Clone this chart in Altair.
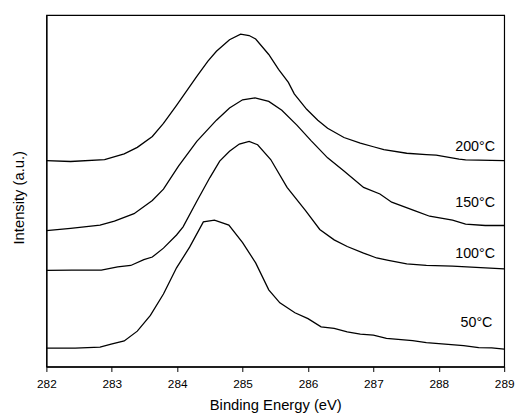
import altair as alt
import pandas as pd

# Binding energy (eV) and intensity (a.u.)
e200 = [282.0, 282.37, 282.89, 283.19, 283.39, 283.62, 283.79, 283.99, 284.30, 284.47, 284.60, 284.80,
        284.97, 285.10, 285.20, 285.40, 285.55, 285.70, 285.79, 285.98, 286.15, 286.30, 286.55, 286.80,
        287.00, 287.16, 287.51, 287.81, 287.96, 288.31, 288.41, 289.0]
i200 = [209.3, 208.3, 210.3, 216.0, 222.7, 233.7, 247.0, 265.3, 294.7, 310.3, 320.3, 332.0,
        337.7, 336.3, 332.7, 317.0, 302.0, 288.7, 277.0, 261.3, 250.3, 242.0, 232.7, 227.0,
        223.3, 220.3, 216.7, 215.3, 214.7, 210.7, 210.0, 209.3]

e150 = [282.0, 282.37, 282.82, 283.04, 283.34, 283.62, 283.79, 284.02, 284.30, 284.60, 284.80, 285.00,
        285.19, 285.40, 285.60, 285.83, 286.05, 286.30, 286.55, 286.85, 287.10, 287.28, 287.66, 287.86,
        288.21, 288.41, 288.71, 289.0]
i150 = [138.0, 140.3, 143.7, 147.7, 155.3, 168.7, 180.3, 203.7, 228.7, 250.3, 262.7, 271.0,
        273.0, 269.3, 260.3, 245.3, 229.3, 212.0, 198.7, 182.0, 175.3, 167.0, 157.7, 152.7,
        148.7, 144.7, 143.3, 143.3]

e100 = [282.0, 282.39, 282.84, 283.09, 283.29, 283.49, 283.62, 283.79, 283.99, 284.09, 284.30, 284.50,
        284.65, 284.80, 284.95, 285.10, 285.23, 285.43, 285.68, 285.96, 286.18, 286.40, 286.60, 286.85,
        287.05, 287.23, 287.51, 287.81, 288.21, 289.0]
i100 = [97.7, 98.0, 98.0, 101.3, 102.7, 108.7, 111.3, 120.3, 133.7, 142.0, 168.0, 192.0,
        208.7, 218.7, 226.0, 228.7, 225.3, 210.3, 182.0, 158.7, 139.3, 128.7, 122.0, 115.3,
        110.3, 108.0, 104.3, 102.7, 102.0, 99.3]

e50 = [282.0, 282.44, 282.82, 282.99, 283.19, 283.39, 283.59, 283.79, 283.99, 284.19, 284.40, 284.57,
       284.79, 285.00, 285.20, 285.40, 285.57, 285.80, 286.00, 286.20, 286.40, 286.60, 286.80, 287.00,
       287.20, 287.60, 287.81, 288.38, 288.61, 288.81, 289.0]
i50 = [18.7, 18.7, 19.7, 22.7, 26.0, 36.0, 52.0, 73.7, 100.3, 121.3, 147.0, 148.7,
       143.7, 126.0, 105.3, 78.0, 64.7, 54.7, 48.7, 40.3, 38.7, 35.3, 33.0, 32.0,
       28.7, 26.3, 24.3, 21.3, 19.3, 19.0, 17.7]

labels = ["200°C", "150°C", "100°C", "50°C"]
label_x = [288.86, 288.86, 288.86, 288.82]
label_y = [223.4, 166.0, 114.7, 43.7]

x_ticks = [282, 282.5, 283, 283.5, 284, 284.5, 285, 285.5, 286, 286.5, 287, 287.5, 288, 288.5, 289]

rows = []
for name, es, ys in [("200", e200, i200), ("150", e150, i150), ("100", e100, i100), ("50", e50, i50)]:
    for k, (e, y) in enumerate(zip(es, ys)):
        rows.append({"series": name, "order": k, "energy": e, "intensity": y})
df = pd.DataFrame(rows)
lab = pd.DataFrame({"label": labels, "energy": label_x, "intensity": label_y})

FONT = "Liberation Sans"

xscale = alt.Scale(domain=[282, 289], nice=False, zero=False)
yscale = alt.Scale(domain=[0, 357], nice=False, zero=False)

xaxis = alt.Axis(
    values=x_ticks,
    format="d",
    labelExpr="datum.value % 1 === 0 ? datum.label : ''",
    tickSize={"condition": {"test": "datum.value % 1 === 0", "value": 5}, "value": 3},
    labelOverlap=False, labelFlush=False, grid=False,
    labelFontSize=12, labelPadding=7, labelColor="black", labelFont=FONT,
    domainColor="black", tickColor="black", domainWidth=1.2, tickWidth=1,
    title="Binding Energy (eV)", titleFontSize=15, titleFont=FONT, titleFontWeight="normal",
    titleColor="black", titlePadding=9,
)
yaxis = alt.Axis(
    labels=False, ticks=False, grid=False, domainColor="black", domainWidth=1.2,
    title="Intensity (a.u.)", titleFontSize=15, titleFont=FONT, titleFontWeight="normal",
    titleColor="black", titlePadding=20, titleY=185,
)

lines = alt.Chart(df).mark_line(color="black", strokeWidth=1.3).encode(
    x=alt.X("energy:Q", scale=xscale, axis=xaxis),
    y=alt.Y("intensity:Q", scale=yscale, axis=yaxis),
    detail="series:N",
    order="order:Q",
)

texts = alt.Chart(lab).mark_text(align="right", baseline="middle", fontSize=14.5, font=FONT, color="black").encode(
    x=alt.X("energy:Q", scale=xscale),
    y=alt.Y("intensity:Q", scale=yscale),
    text="label:N",
)

chart = alt.layer(lines, texts).properties(
    width=465, height=357,
    autosize=alt.AutoSizeParams(type="none"),
    padding={"left": 39, "top": 4, "right": 12, "bottom": 49},
    background="white",
).configure_view(stroke="black", strokeWidth=1.2)

chart.save("out.html", embed_options={"renderer": "svg", "actions": False})
